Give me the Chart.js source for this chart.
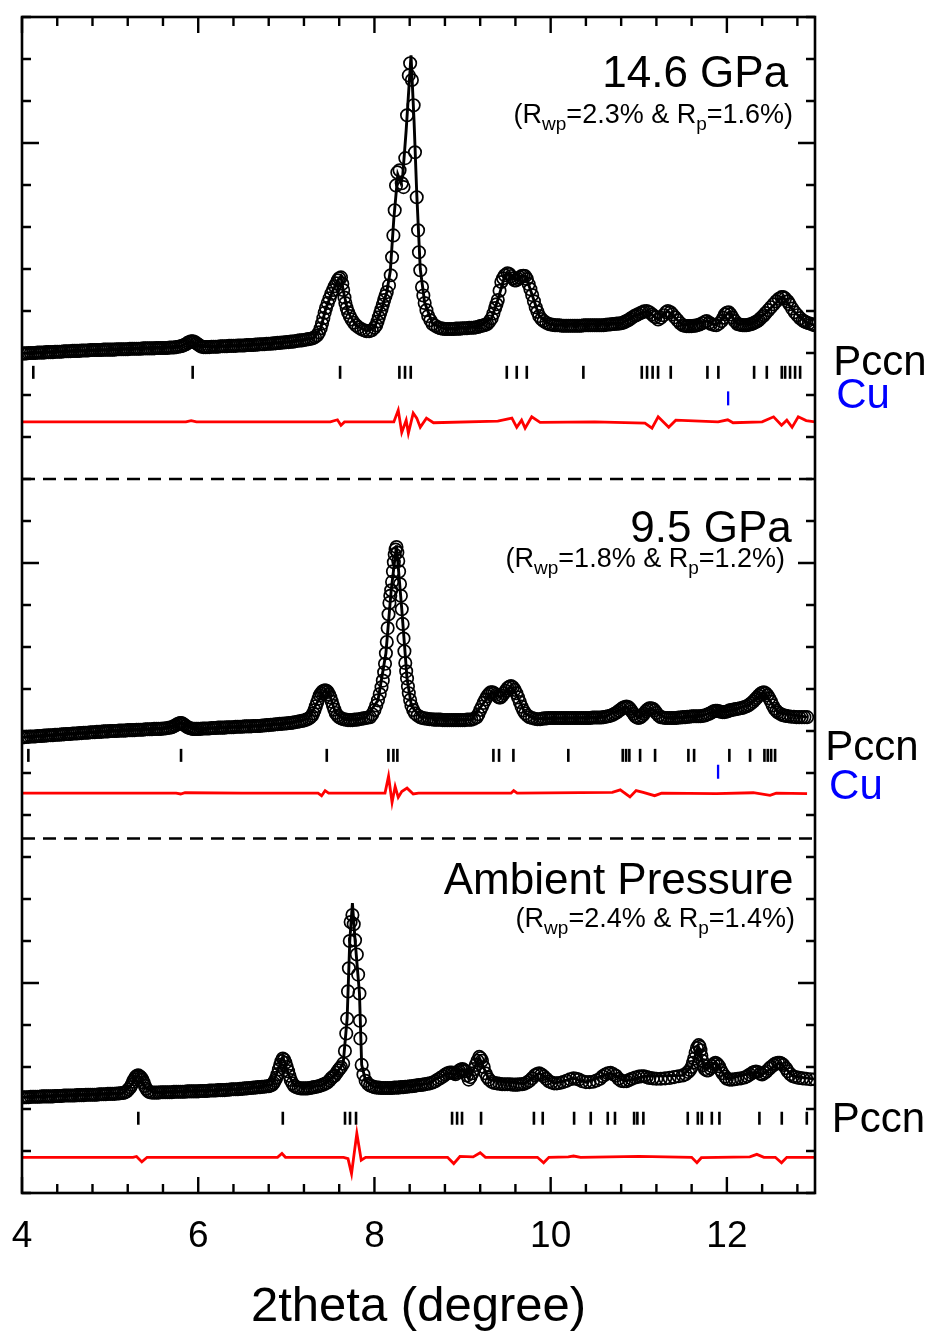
<!DOCTYPE html>
<html>
<head>
<meta charset="utf-8">
<title>Rietveld refinement, Pccn</title>
<script src="https://cdn.jsdelivr.net/npm/chart.js@4.4.1/dist/chart.umd.min.js"></script>
<style>
    html, body { margin: 0; padding: 0; background: #fff; }
    canvas { display: block; }
</style>
</head>
<body>
<canvas id="chart" width="932" height="1332"></canvas>
<script>
const FONT = "'Liberation Sans', Arial, Helvetica, sans-serif";

// axes
const xTickLabels = [4, 6, 8, 10, 12];
const xMinorStep = 0.4;
const yMajorTicks = [0, 10, 20];
const yMinorStep = 1;

// panel texts
const panelTitles = ["14.6 GPa", "9.5 GPa", "Ambient Pressure"];
const panelRwp = ["2.3", "1.8", "2.4"];
const panelRp = ["1.6", "1.2", "1.4"];

// separators between the patterns
const dashLevels = [12, 3.44];

// reflection marker rows
const tickLevels146 = { pccn: 14.54, cu: 13.92 };
const tickLevels95 = { pccn: 5.42, cu: 5.03 };
const tickLevelsAmb = { pccn: -3.22 };

// ---------- 14.6 GPa ----------
const obs146 = [
    [4.000,14.99],[4.025,14.99],[4.050,14.99],[4.075,15.00],[4.100,15.00],[4.125,15.00],[4.150,15.00],[4.175,15.01],[4.200,15.01],[4.225,15.01],
    [4.250,15.01],[4.275,15.02],[4.300,15.02],[4.325,15.02],[4.350,15.02],[4.375,15.03],[4.400,15.03],[4.425,15.03],[4.450,15.03],[4.475,15.04],
    [4.500,15.04],[4.525,15.04],[4.550,15.04],[4.575,15.05],[4.600,15.05],[4.625,15.05],[4.650,15.05],[4.675,15.06],[4.700,15.06],[4.725,15.06],
    [4.750,15.06],[4.775,15.07],[4.800,15.07],[4.825,15.07],[4.850,15.07],[4.875,15.07],[4.900,15.07],[4.925,15.08],[4.950,15.08],[4.975,15.08],
    [5.000,15.08],[5.025,15.08],[5.050,15.08],[5.075,15.09],[5.100,15.09],[5.125,15.09],[5.150,15.09],[5.175,15.09],[5.200,15.09],[5.225,15.10],
    [5.250,15.10],[5.275,15.10],[5.300,15.10],[5.325,15.10],[5.350,15.10],[5.375,15.11],[5.400,15.11],[5.425,15.11],[5.450,15.11],[5.475,15.11],
    [5.500,15.11],[5.525,15.12],[5.550,15.12],[5.575,15.12],[5.600,15.12],[5.625,15.12],[5.650,15.12],[5.675,15.13],[5.700,15.13],[5.725,15.13],
    [5.750,15.14],[5.775,15.15],[5.800,15.16],[5.82,15.17],[5.84,15.19],[5.86,15.21],[5.88,15.24],[5.90,15.26],[5.92,15.28],[5.94,15.28],
    [5.96,15.26],[5.98,15.23],[6.00,15.20],[6.02,15.17],[6.04,15.15],[6.06,15.14],[6.08,15.14],[6.10,15.14],[6.125,15.14],[6.150,15.15],
    [6.175,15.15],[6.200,15.15],[6.225,15.15],[6.250,15.16],[6.275,15.16],[6.300,15.16],[6.325,15.16],[6.350,15.17],[6.375,15.17],[6.400,15.17],
    [6.425,15.17],[6.450,15.18],[6.475,15.18],[6.500,15.18],[6.525,15.18],[6.550,15.19],[6.575,15.19],[6.600,15.19],[6.625,15.19],[6.650,15.20],
    [6.675,15.20],[6.700,15.21],[6.725,15.21],[6.750,15.21],[6.775,15.22],[6.800,15.22],[6.825,15.22],[6.850,15.23],[6.875,15.23],[6.900,15.24],
    [6.925,15.24],[6.950,15.25],[6.975,15.25],[7.000,15.26],[7.025,15.26],[7.050,15.27],[7.075,15.27],[7.100,15.28],[7.125,15.29],[7.150,15.30],
    [7.175,15.30],[7.200,15.31],[7.225,15.32],[7.250,15.33],[7.275,15.34],[7.300,15.35],[7.325,15.38],[7.35,15.42],[7.37,15.49],[7.39,15.59],
    [7.405,15.70],[7.42,15.83],[7.435,15.96],[7.45,16.07],[7.47,16.19],[7.49,16.30],[7.51,16.41],[7.53,16.50],[7.55,16.59],[7.57,16.66],
    [7.585,16.73],[7.60,16.78],[7.62,16.80],[7.635,16.65],[7.645,16.50],[7.66,16.32],[7.67,16.19],[7.685,16.07],[7.70,15.97],[7.72,15.88],
    [7.74,15.80],[7.765,15.72],[7.79,15.66],[7.82,15.61],[7.85,15.57],[7.88,15.54],[7.91,15.52],[7.94,15.52],[7.97,15.54],[8.00,15.60],
    [8.02,15.66],[8.035,15.75],[8.05,15.85],[8.065,15.95],[8.08,16.04],[8.095,16.15],[8.11,16.26],[8.125,16.36],[8.14,16.45],[8.165,16.61],
    [8.185,16.85],[8.20,17.28],[8.215,17.80],[8.23,18.40],[8.245,18.99],[8.26,19.30],[8.285,19.35],[8.31,19.04],[8.33,18.95],[8.35,19.64],
    [8.37,20.66],[8.39,21.61],[8.405,21.90],[8.425,21.50],[8.445,20.90],[8.46,19.78],[8.48,18.71],[8.495,17.92],[8.505,17.40],[8.52,16.97],
    [8.54,16.57],[8.555,16.37],[8.57,16.19],[8.59,16.02],[8.61,15.88],[8.635,15.78],[8.66,15.69],[8.69,15.65],[8.72,15.61],[8.75,15.59],
    [8.775,15.58],[8.800,15.57],[8.825,15.57],[8.850,15.57],[8.875,15.57],[8.900,15.57],[8.925,15.58],[8.950,15.58],[8.975,15.58],[9.000,15.59],
    [9.025,15.59],[9.050,15.59],[9.075,15.60],[9.100,15.60],[9.125,15.60],[9.150,15.61],[9.175,15.62],[9.20,15.64],[9.22,15.65],[9.24,15.66],
    [9.26,15.67],[9.28,15.69],[9.305,15.75],[9.33,15.83],[9.35,15.94],[9.37,16.07],[9.385,16.16],[9.40,16.26],[9.42,16.48],[9.44,16.69],
    [9.46,16.78],[9.48,16.85],[9.51,16.90],[9.53,16.88],[9.55,16.83],[9.57,16.78],[9.59,16.73],[9.61,16.73],[9.63,16.76],[9.65,16.80],
    [9.67,16.83],[9.69,16.84],[9.71,16.83],[9.73,16.76],[9.75,16.64],[9.77,16.52],[9.79,16.38],[9.81,16.23],[9.83,16.09],[9.85,15.98],
    [9.87,15.88],[9.895,15.81],[9.92,15.76],[9.95,15.72],[9.98,15.69],[10.000,15.68],[10.025,15.67],[10.050,15.66],[10.075,15.66],[10.100,15.66],
    [10.125,15.65],[10.150,15.65],[10.175,15.65],[10.200,15.65],[10.225,15.65],[10.250,15.65],[10.275,15.65],[10.300,15.65],[10.325,15.65],[10.350,15.65],
    [10.375,15.66],[10.400,15.66],[10.425,15.66],[10.450,15.66],[10.475,15.66],[10.500,15.66],[10.525,15.66],[10.550,15.66],[10.575,15.66],[10.600,15.66],
    [10.625,15.67],[10.650,15.68],[10.675,15.68],[10.700,15.69],[10.725,15.69],[10.750,15.70],[10.775,15.70],[10.800,15.71],[10.82,15.72],[10.84,15.74],
    [10.86,15.76],[10.88,15.78],[10.90,15.81],[10.92,15.84],[10.95,15.88],[10.97,15.90],[10.99,15.92],[11.02,15.95],[11.04,15.97],[11.06,15.99],
    [11.09,16.00],[11.12,15.97],[11.15,15.92],[11.17,15.88],[11.19,15.85],[11.22,15.80],[11.25,15.84],[11.28,15.90],[11.31,15.97],[11.33,16.00],
    [11.36,15.97],[11.38,15.92],[11.41,15.85],[11.44,15.78],[11.47,15.71],[11.50,15.66],[11.52,15.65],[11.54,15.64],[11.56,15.64],[11.58,15.64],
    [11.60,15.64],[11.62,15.65],[11.64,15.65],[11.66,15.66],[11.69,15.68],[11.72,15.71],[11.75,15.74],[11.77,15.76],[11.80,15.72],[11.82,15.69],
    [11.85,15.67],[11.88,15.66],[11.91,15.70],[11.94,15.76],[11.96,15.84],[11.98,15.92],[12.00,15.96],[12.02,15.97],[12.04,15.92],[12.06,15.85],
    [12.09,15.76],[12.12,15.69],[12.14,15.68],[12.16,15.67],[12.18,15.66],[12.20,15.66],[12.22,15.66],[12.24,15.67],[12.26,15.68],[12.28,15.69],
    [12.30,15.71],[12.32,15.73],[12.34,15.75],[12.36,15.78],[12.38,15.82],[12.40,15.86],[12.42,15.90],[12.44,15.95],[12.47,16.02],[12.50,16.09],
    [12.53,16.16],[12.56,16.23],[12.59,16.29],[12.62,16.33],[12.64,16.33],[12.66,16.30],[12.69,16.23],[12.71,16.16],[12.74,16.06],[12.77,15.97],
    [12.80,15.90],[12.83,15.83],[12.86,15.78],[12.88,15.75],[12.90,15.73],[12.93,15.71],[12.96,15.69],[12.98,15.67],[13.00,15.66]
];
const calc146 = [
    [4.00,14.99],[5.00,15.08],[5.80,15.16],[5.92,15.28],[6.04,15.15],[6.50,15.18],[7.00,15.26],[7.30,15.35],[7.39,15.59],[7.45,16.07],
    [7.53,16.50],[7.60,16.78],[7.62,16.82],[7.645,16.50],[7.70,15.97],[7.79,15.66],[7.91,15.52],[8.00,15.60],[8.08,16.04],[8.14,16.45],
    [8.18,16.95],[8.22,18.20],[8.265,19.25],[8.30,19.05],[8.32,19.20],[8.36,20.30],[8.415,22.09],[8.45,20.50],[8.48,18.80],[8.52,17.00],
    [8.57,16.20],[8.66,15.70],[8.80,15.57],[9.20,15.64],[9.33,15.83],[9.40,16.26],[9.48,16.85],[9.52,16.90],[9.60,16.73],[9.68,16.83],
    [9.72,16.82],[9.79,16.38],[9.87,15.88],[10.00,15.67],[10.80,15.71],[10.95,15.88],[11.09,16.00],[11.22,15.80],[11.33,16.00],[11.50,15.66],
    [11.77,15.76],[11.88,15.66],[12.02,15.97],[12.12,15.69],[12.28,15.69],[12.44,15.95],[12.63,16.34],[12.77,15.97],[12.90,15.73],[13.00,15.66]
];
const diff146 = [
    [4.00,13.36],[5.86,13.36],[5.92,13.39],[5.98,13.36],[7.50,13.36],[7.58,13.41],[7.62,13.28],[7.66,13.36],[8.22,13.36],[8.27,13.64],
    [8.31,13.11],[8.36,13.40],[8.385,13.09],[8.44,13.57],[8.48,13.45],[8.52,13.23],[8.59,13.45],[8.67,13.34],[9.40,13.38],[9.56,13.45],
    [9.615,13.23],[9.67,13.40],[9.71,13.21],[9.785,13.48],[9.88,13.35],[10.50,13.36],[11.07,13.33],[11.15,13.21],[11.22,13.48],[11.34,13.23],
    [11.42,13.40],[11.90,13.36],[12.01,13.41],[12.07,13.34],[12.40,13.36],[12.53,13.48],[12.62,13.28],[12.68,13.40],[12.74,13.23],[12.81,13.48],
    [12.90,13.39],[13.00,13.36]
];
const pccn146 = [4.128, 5.937, 7.61, 8.283, 8.347, 8.412, 9.502, 9.615, 9.729, 10.371, 11.034, 11.094, 11.157, 11.219,
    11.363, 11.779, 11.903, 12.309, 12.453, 12.623, 12.661, 12.717, 12.774, 12.831];
const cu146 = [12.014];

// ---------- 9.5 GPa ----------
const obs95 = [
    [4.000,5.85],[4.025,5.85],[4.050,5.86],[4.075,5.86],[4.100,5.87],[4.125,5.87],[4.150,5.87],[4.175,5.88],[4.200,5.88],[4.225,5.88],
    [4.250,5.89],[4.275,5.89],[4.300,5.90],[4.325,5.90],[4.350,5.90],[4.375,5.91],[4.400,5.91],[4.425,5.91],[4.450,5.92],[4.475,5.92],
    [4.500,5.93],[4.525,5.93],[4.550,5.93],[4.575,5.94],[4.600,5.94],[4.625,5.94],[4.650,5.95],[4.675,5.95],[4.700,5.96],[4.725,5.96],
    [4.750,5.96],[4.775,5.97],[4.800,5.97],[4.825,5.97],[4.850,5.98],[4.875,5.98],[4.900,5.98],[4.925,5.99],[4.950,5.99],[4.975,5.99],
    [5.000,6.00],[5.025,6.00],[5.050,6.00],[5.075,6.00],[5.100,6.01],[5.125,6.01],[5.150,6.01],[5.175,6.01],[5.200,6.02],[5.225,6.02],
    [5.250,6.02],[5.275,6.02],[5.300,6.03],[5.325,6.03],[5.350,6.03],[5.375,6.03],[5.400,6.04],[5.425,6.04],[5.450,6.04],[5.475,6.04],
    [5.500,6.05],[5.525,6.05],[5.550,6.05],[5.575,6.05],[5.600,6.06],[5.625,6.06],[5.650,6.07],[5.675,6.08],[5.700,6.09],[5.72,6.11],
    [5.74,6.13],[5.76,6.16],[5.78,6.18],[5.795,6.19],[5.81,6.19],[5.825,6.17],[5.84,6.15],[5.86,6.12],[5.88,6.09],[5.90,6.07],
    [5.92,6.06],[5.94,6.05],[5.96,6.05],[5.98,6.05],[6.000,6.05],[6.025,6.05],[6.050,6.06],[6.075,6.06],[6.100,6.06],[6.125,6.06],
    [6.150,6.07],[6.175,6.07],[6.200,6.07],[6.225,6.08],[6.250,6.08],[6.275,6.08],[6.300,6.08],[6.325,6.09],[6.350,6.09],[6.375,6.09],
    [6.400,6.09],[6.425,6.10],[6.450,6.10],[6.475,6.10],[6.500,6.10],[6.525,6.11],[6.550,6.11],[6.575,6.11],[6.600,6.11],[6.625,6.12],
    [6.650,6.12],[6.675,6.12],[6.700,6.12],[6.725,6.13],[6.750,6.13],[6.775,6.14],[6.800,6.14],[6.825,6.15],[6.850,6.15],[6.875,6.16],
    [6.900,6.16],[6.925,6.17],[6.950,6.17],[6.975,6.18],[7.000,6.18],[7.025,6.19],[7.050,6.19],[7.075,6.20],[7.100,6.21],[7.125,6.22],
    [7.150,6.23],[7.175,6.24],[7.200,6.25],[7.225,6.27],[7.25,6.29],[7.27,6.32],[7.29,6.36],[7.305,6.42],[7.32,6.50],[7.335,6.59],
    [7.35,6.68],[7.365,6.77],[7.38,6.85],[7.395,6.90],[7.41,6.94],[7.425,6.96],[7.44,6.97],[7.455,6.96],[7.47,6.93],[7.485,6.87],
    [7.50,6.80],[7.515,6.70],[7.53,6.60],[7.545,6.51],[7.56,6.43],[7.58,6.37],[7.60,6.33],[7.625,6.30],[7.65,6.28],[7.675,6.27],
    [7.70,6.26],[7.725,6.26],[7.75,6.26],[7.775,6.27],[7.80,6.27],[7.825,6.28],[7.85,6.29],[7.875,6.30],[7.90,6.31],[7.925,6.32],
    [7.95,6.33],[7.975,6.40],[8.00,6.50],[8.02,6.61],[8.04,6.73],[8.06,6.88],[8.08,7.04],[8.095,7.20],[8.11,7.40],[8.12,7.60],
    [8.13,7.85],[8.14,8.12],[8.15,8.45],[8.16,8.78],[8.17,9.05],[8.18,9.22],[8.19,9.35],[8.20,9.55],[8.21,9.80],[8.22,10.02],
    [8.23,10.20],[8.24,10.32],[8.25,10.38],[8.26,10.25],[8.27,10.05],[8.28,9.80],[8.29,9.50],[8.30,9.22],[8.31,8.90],[8.32,8.55],
    [8.33,8.20],[8.34,7.90],[8.35,7.62],[8.36,7.42],[8.37,7.25],[8.38,7.06],[8.39,6.90],[8.405,6.74],[8.42,6.60],[8.44,6.50],
    [8.46,6.42],[8.49,6.37],[8.52,6.33],[8.545,6.31],[8.57,6.30],[8.600,6.29],[8.625,6.28],[8.650,6.28],[8.675,6.27],[8.700,6.27],
    [8.725,6.27],[8.750,6.27],[8.775,6.26],[8.800,6.26],[8.825,6.26],[8.850,6.26],[8.875,6.26],[8.900,6.26],[8.925,6.26],[8.950,6.26],
    [8.975,6.26],[9.000,6.26],[9.025,6.26],[9.050,6.27],[9.075,6.27],[9.100,6.27],[9.13,6.29],[9.16,6.33],[9.18,6.40],[9.20,6.50],
    [9.22,6.58],[9.24,6.67],[9.26,6.75],[9.28,6.83],[9.30,6.88],[9.32,6.92],[9.34,6.92],[9.36,6.90],[9.38,6.86],[9.40,6.82],
    [9.415,6.80],[9.43,6.80],[9.45,6.84],[9.47,6.90],[9.49,6.96],[9.51,7.02],[9.53,7.05],[9.55,7.07],[9.57,7.04],[9.59,6.98],
    [9.61,6.90],[9.63,6.80],[9.65,6.69],[9.67,6.58],[9.69,6.49],[9.71,6.42],[9.735,6.37],[9.76,6.33],[9.79,6.31],[9.82,6.29],
    [9.85,6.28],[9.88,6.28],[9.900,6.29],[9.925,6.30],[9.950,6.30],[9.975,6.31],[10.000,6.31],[10.025,6.31],[10.050,6.31],[10.075,6.31],
    [10.100,6.31],[10.125,6.31],[10.150,6.31],[10.175,6.31],[10.200,6.31],[10.225,6.31],[10.250,6.31],[10.275,6.31],[10.300,6.31],[10.325,6.31],
    [10.350,6.31],[10.375,6.31],[10.400,6.31],[10.425,6.31],[10.450,6.31],[10.475,6.32],[10.500,6.32],[10.525,6.32],[10.550,6.32],[10.575,6.32],
    [10.600,6.33],[10.625,6.34],[10.650,6.35],[10.675,6.36],[10.700,6.38],[10.725,6.41],[10.750,6.44],[10.775,6.48],[10.80,6.52],[10.82,6.55],
    [10.84,6.57],[10.86,6.58],[10.88,6.57],[10.90,6.53],[10.92,6.47],[10.94,6.41],[10.96,6.35],[10.98,6.32],[11.00,6.31],[11.02,6.33],
    [11.04,6.36],[11.06,6.41],[11.08,6.47],[11.10,6.51],[11.12,6.54],[11.14,6.54],[11.16,6.53],[11.18,6.49],[11.20,6.43],[11.225,6.37],
    [11.250,6.33],[11.275,6.32],[11.300,6.31],[11.325,6.31],[11.350,6.31],[11.375,6.31],[11.400,6.31],[11.425,6.31],[11.450,6.32],[11.475,6.32],
    [11.500,6.33],[11.525,6.33],[11.550,6.34],[11.575,6.34],[11.600,6.35],[11.625,6.35],[11.650,6.35],[11.675,6.35],[11.700,6.35],[11.725,6.36],
    [11.750,6.37],[11.775,6.39],[11.800,6.41],[11.825,6.44],[11.85,6.47],[11.87,6.48],[11.89,6.48],[11.91,6.47],[11.93,6.46],[11.95,6.45],
    [11.97,6.45],[11.99,6.46],[12.01,6.47],[12.03,6.49],[12.05,6.50],[12.075,6.51],[12.100,6.52],[12.125,6.53],[12.150,6.54],[12.175,6.55],
    [12.200,6.57],[12.225,6.59],[12.25,6.62],[12.275,6.66],[12.30,6.70],[12.32,6.75],[12.34,6.79],[12.36,6.84],[12.38,6.88],[12.40,6.91],
    [12.42,6.92],[12.44,6.90],[12.46,6.85],[12.48,6.78],[12.50,6.70],[12.52,6.61],[12.54,6.53],[12.56,6.48],[12.58,6.44],[12.605,6.41],
    [12.63,6.38],[12.65,6.37],[12.67,6.36],[12.70,6.35],[12.73,6.34],[12.76,6.34],[12.79,6.33],[12.82,6.33],[12.85,6.33],[12.88,6.33],
    [12.91,6.33]
];
const calc95 = [
    [4.00,5.85],[5.00,6.00],[5.65,6.07],[5.80,6.19],[5.95,6.05],[6.50,6.10],[7.00,6.18],[7.25,6.29],[7.35,6.68],[7.44,6.98],
    [7.50,6.80],[7.56,6.43],[7.66,6.27],[7.90,6.31],[8.04,6.73],[8.13,7.85],[8.19,9.35],[8.25,10.42],[8.31,8.90],[8.37,7.25],
    [8.42,6.60],[8.52,6.33],[9.10,6.27],[9.24,6.67],[9.33,6.93],[9.43,6.80],[9.55,7.06],[9.63,6.80],[9.71,6.42],[9.82,6.29],
    [10.60,6.33],[10.86,6.57],[11.00,6.31],[11.14,6.54],[11.30,6.31],[11.70,6.35],[11.88,6.48],[12.00,6.46],[12.25,6.62],[12.42,6.92],
    [12.58,6.44],[12.91,6.33]
];
const diff95 = [
    [4.00,4.52],[5.75,4.52],[5.80,4.50],[5.85,4.53],[6.50,4.52],[7.36,4.52],[7.40,4.46],[7.44,4.58],[7.48,4.52],[8.12,4.52],
    [8.16,4.92],[8.20,4.30],[8.235,4.68],[8.27,4.42],[8.31,4.56],[8.37,4.64],[8.44,4.50],[8.50,4.52],[9.55,4.52],[9.58,4.58],
    [9.62,4.52],[10.70,4.54],[10.79,4.60],[10.90,4.43],[10.97,4.58],[11.05,4.54],[11.18,4.46],[11.26,4.52],[11.88,4.51],[12.30,4.53],
    [12.49,4.47],[12.56,4.52],[12.91,4.51]
];
const pccn95 = [4.072, 5.805, 7.459, 8.158, 8.215, 8.26, 9.35, 9.414, 9.577, 10.20, 10.818, 10.856, 10.893, 11.015,
    11.185, 11.563, 11.628, 12.028, 12.263, 12.426, 12.464, 12.502, 12.547];
const cu95 = [11.90];

// ---------- ambient pressure ----------
const obsAmb = [
    [4.000,-2.72],[4.025,-2.72],[4.050,-2.72],[4.075,-2.72],[4.100,-2.71],[4.125,-2.71],[4.150,-2.71],[4.175,-2.71],[4.200,-2.71],[4.225,-2.70],
    [4.250,-2.70],[4.275,-2.70],[4.300,-2.70],[4.325,-2.70],[4.350,-2.70],[4.375,-2.69],[4.400,-2.69],[4.425,-2.69],[4.450,-2.69],[4.475,-2.68],
    [4.500,-2.68],[4.525,-2.68],[4.550,-2.68],[4.575,-2.68],[4.600,-2.68],[4.625,-2.67],[4.650,-2.67],[4.675,-2.67],[4.700,-2.67],[4.725,-2.66],
    [4.750,-2.66],[4.775,-2.66],[4.800,-2.66],[4.825,-2.66],[4.850,-2.66],[4.875,-2.65],[4.900,-2.65],[4.925,-2.65],[4.950,-2.65],[4.975,-2.64],
    [5.000,-2.64],[5.025,-2.64],[5.050,-2.64],[5.075,-2.63],[5.100,-2.63],[5.125,-2.62],[5.150,-2.62],[5.17,-2.60],[5.19,-2.58],[5.21,-2.53],
    [5.23,-2.48],[5.245,-2.42],[5.26,-2.35],[5.275,-2.29],[5.29,-2.24],[5.305,-2.21],[5.32,-2.20],[5.335,-2.22],[5.35,-2.25],[5.365,-2.30],
    [5.38,-2.37],[5.395,-2.45],[5.41,-2.52],[5.43,-2.57],[5.45,-2.60],[5.475,-2.61],[5.500,-2.61],[5.525,-2.61],[5.550,-2.61],[5.575,-2.60],
    [5.600,-2.60],[5.625,-2.60],[5.650,-2.60],[5.675,-2.60],[5.700,-2.60],[5.725,-2.59],[5.750,-2.59],[5.775,-2.59],[5.800,-2.59],[5.825,-2.59],
    [5.850,-2.59],[5.875,-2.58],[5.900,-2.58],[5.925,-2.58],[5.950,-2.58],[5.975,-2.58],[6.000,-2.58],[6.025,-2.57],[6.050,-2.57],[6.075,-2.57],
    [6.100,-2.57],[6.125,-2.56],[6.150,-2.56],[6.175,-2.56],[6.200,-2.56],[6.225,-2.55],[6.250,-2.55],[6.275,-2.55],[6.300,-2.55],[6.325,-2.54],
    [6.350,-2.54],[6.375,-2.53],[6.400,-2.53],[6.425,-2.53],[6.450,-2.53],[6.475,-2.52],[6.500,-2.52],[6.525,-2.51],[6.550,-2.51],[6.575,-2.50],
    [6.600,-2.50],[6.625,-2.49],[6.650,-2.49],[6.675,-2.48],[6.700,-2.48],[6.725,-2.47],[6.750,-2.47],[6.775,-2.46],[6.800,-2.46],[6.82,-2.44],
    [6.84,-2.42],[6.855,-2.38],[6.87,-2.33],[6.885,-2.26],[6.90,-2.17],[6.915,-2.06],[6.93,-1.95],[6.945,-1.86],[6.96,-1.80],[6.975,-1.83],
    [6.99,-1.90],[7.005,-2.00],[7.02,-2.10],[7.035,-2.21],[7.05,-2.31],[7.07,-2.39],[7.09,-2.45],[7.115,-2.48],[7.14,-2.50],[7.165,-2.51],
    [7.19,-2.51],[7.215,-2.51],[7.24,-2.51],[7.265,-2.50],[7.29,-2.49],[7.315,-2.48],[7.34,-2.47],[7.365,-2.46],[7.39,-2.44],[7.415,-2.42],
    [7.44,-2.40],[7.465,-2.37],[7.49,-2.32],[7.51,-2.27],[7.53,-2.23],[7.55,-2.20],[7.57,-2.14],[7.59,-2.08],[7.605,-2.04],[7.62,-2.00],
    [7.645,-1.92],[7.665,-1.62],[7.68,-1.20],[7.69,-0.85],[7.70,-0.20],[7.71,0.35],[7.72,1.00],[7.73,1.45],[7.75,1.62],[7.765,1.40],
    [7.78,1.02],[7.80,0.68],[7.815,0.20],[7.83,-0.25],[7.835,-0.90],[7.84,-1.32],[7.855,-1.95],[7.875,-2.18],[7.90,-2.33],[7.925,-2.40],
    [7.950,-2.44],[7.975,-2.46],[8.000,-2.48],[8.025,-2.49],[8.050,-2.49],[8.075,-2.50],[8.100,-2.50],[8.125,-2.50],[8.150,-2.50],[8.175,-2.50],
    [8.200,-2.50],[8.225,-2.49],[8.250,-2.49],[8.275,-2.49],[8.300,-2.48],[8.325,-2.48],[8.350,-2.47],[8.375,-2.47],[8.400,-2.46],[8.425,-2.46],
    [8.450,-2.45],[8.475,-2.44],[8.500,-2.43],[8.525,-2.43],[8.550,-2.42],[8.575,-2.41],[8.600,-2.40],[8.63,-2.39],[8.66,-2.37],[8.69,-2.34],
    [8.72,-2.30],[8.75,-2.26],[8.78,-2.22],[8.805,-2.18],[8.83,-2.15],[8.855,-2.13],[8.88,-2.13],[8.90,-2.15],[8.92,-2.17],[8.94,-2.13],
    [8.96,-2.09],[8.98,-2.06],[9.00,-2.05],[9.015,-2.07],[9.03,-2.10],[9.05,-2.20],[9.07,-2.30],[9.09,-2.24],[9.11,-2.15],[9.13,-2.05],
    [9.15,-1.95],[9.17,-1.85],[9.19,-1.76],[9.205,-1.79],[9.22,-1.85],[9.24,-2.00],[9.26,-2.15],[9.28,-2.24],[9.30,-2.30],[9.33,-2.35],
    [9.36,-2.38],[9.39,-2.39],[9.42,-2.40],[9.45,-2.41],[9.48,-2.41],[9.51,-2.41],[9.54,-2.41],[9.57,-2.42],[9.60,-2.42],[9.625,-2.42],
    [9.65,-2.41],[9.675,-2.41],[9.70,-2.40],[9.73,-2.37],[9.76,-2.33],[9.79,-2.27],[9.82,-2.20],[9.845,-2.17],[9.87,-2.15],[9.895,-2.18],
    [9.92,-2.22],[9.95,-2.28],[9.98,-2.34],[10.01,-2.37],[10.04,-2.39],[10.07,-2.39],[10.10,-2.38],[10.14,-2.36],[10.18,-2.33],[10.22,-2.29],
    [10.26,-2.27],[10.29,-2.28],[10.32,-2.30],[10.36,-2.34],[10.40,-2.36],[10.44,-2.36],[10.48,-2.35],[10.52,-2.32],[10.56,-2.28],[10.59,-2.22],
    [10.62,-2.18],[10.65,-2.15],[10.68,-2.14],[10.71,-2.17],[10.74,-2.21],[10.77,-2.28],[10.80,-2.33],[10.83,-2.34],[10.86,-2.34],[10.89,-2.31],
    [10.92,-2.28],[10.96,-2.25],[11.00,-2.23],[11.03,-2.22],[11.06,-2.22],[11.09,-2.24],[11.12,-2.26],[11.16,-2.27],[11.20,-2.28],[11.25,-2.28],
    [11.30,-2.27],[11.35,-2.26],[11.40,-2.24],[11.45,-2.22],[11.50,-2.20],[11.53,-2.17],[11.56,-2.12],[11.58,-2.07],[11.60,-2.00],[11.615,-1.90],
    [11.63,-1.80],[11.645,-1.66],[11.66,-1.55],[11.68,-1.48],[11.69,-1.52],[11.70,-1.60],[11.71,-1.73],[11.72,-1.85],[11.735,-1.96],[11.75,-2.05],
    [11.77,-2.08],[11.79,-2.08],[11.81,-2.03],[11.83,-1.98],[11.85,-1.93],[11.87,-1.90],[11.89,-1.93],[11.91,-1.98],[11.93,-2.07],[11.95,-2.15],
    [11.98,-2.23],[12.00,-2.28],[12.03,-2.30],[12.06,-2.30],[12.09,-2.29],[12.12,-2.28],[12.16,-2.27],[12.20,-2.25],[12.23,-2.22],[12.26,-2.18],
    [12.29,-2.14],[12.31,-2.12],[12.33,-2.11],[12.35,-2.12],[12.38,-2.16],[12.40,-2.18],[12.43,-2.14],[12.45,-2.10],[12.48,-2.04],[12.50,-2.00],
    [12.53,-1.95],[12.55,-1.92],[12.58,-1.90],[12.60,-1.90],[12.62,-1.92],[12.64,-1.95],[12.67,-2.03],[12.69,-2.10],[12.72,-2.17],[12.75,-2.22],
    [12.78,-2.24],[12.82,-2.26],[12.86,-2.27],[12.90,-2.28],[12.95,-2.29],[13.00,-2.29]
];
const calcAmb = [
    [4.00,-2.72],[5.15,-2.62],[5.25,-2.40],[5.32,-2.18],[5.40,-2.50],[5.50,-2.61],[6.50,-2.52],[6.84,-2.42],[6.91,-2.05],[6.96,-1.75],
    [7.02,-2.15],[7.09,-2.45],[7.40,-2.44],[7.55,-2.20],[7.645,-1.92],[7.69,-0.85],[7.72,1.00],[7.75,1.90],[7.78,1.02],[7.83,-0.25],
    [7.855,-1.95],[7.90,-2.33],[8.00,-2.48],[8.60,-2.40],[8.83,-2.15],[8.92,-2.17],[9.00,-2.05],[9.07,-2.28],[9.19,-1.78],[9.30,-2.30],
    [9.70,-2.40],[9.87,-2.15],[10.04,-2.39],[10.26,-2.27],[10.40,-2.36],[10.68,-2.14],[10.84,-2.34],[11.06,-2.22],[11.50,-2.20],[11.60,-2.00],
    [11.675,-1.50],[11.75,-2.05],[11.87,-1.90],[12.00,-2.28],[12.33,-2.12],[12.40,-2.18],[12.60,-1.90],[12.75,-2.22],[13.00,-2.29]
];
const diffAmb = [
    [4.00,-4.15],[5.26,-4.15],[5.30,-4.13],[5.36,-4.26],[5.42,-4.15],[6.90,-4.15],[6.95,-4.06],[6.99,-4.15],[7.65,-4.15],[7.70,-4.18],
    [7.74,-4.54],[7.80,-3.58],[7.85,-4.22],[7.90,-4.15],[8.83,-4.15],[8.90,-4.30],[8.97,-4.13],[9.12,-4.14],[9.20,-4.04],[9.26,-4.15],
    [9.85,-4.15],[9.92,-4.28],[9.98,-4.15],[10.20,-4.14],[10.26,-4.12],[10.34,-4.15],[11.00,-4.13],[11.60,-4.15],[11.66,-4.28],[11.71,-4.16],
    [12.26,-4.14],[12.34,-4.08],[12.42,-4.15],[12.55,-4.15],[12.62,-4.28],[12.68,-4.15],[13.00,-4.15]
];
const pccnAmb = [5.32, 6.96, 7.666, 7.723, 7.791, 8.881, 8.938, 8.994, 9.21, 9.81, 9.91, 10.266, 10.455, 10.648, 10.73,
    10.947, 10.984, 11.052, 11.556, 11.67, 11.715, 11.829, 11.915, 12.369, 12.623, 12.907];

function toPoints(pairs) {
    return pairs.map(p => ({ x: p[0], y: p[1] }));
}

function rowPoints(xs, level) {
    return xs.map(x => ({ x: x, y: level }));
}

function observed(pairs) {
    return {
        data: toPoints(pairs), showLine: false, pointStyle: "circle", pointRadius: 6.2,
        pointBorderWidth: 1.7, pointBorderColor: "#000", pointBackgroundColor: "rgba(255,255,255,0)", order: 2
    };
}

function curve(pairs, color, width, order) {
    return {
        data: toPoints(pairs), showLine: true, borderColor: color, borderWidth: width,
        pointRadius: 0, tension: 0, order: order
    };
}

function markers(xs, level, color, radius, width) {
    return {
        data: rowPoints(xs, level), showLine: false, pointStyle: "line", pointRotation: 90,
        pointRadius: radius, pointBorderWidth: width, pointBorderColor: color, order: 4
    };
}

const datasets = [
    curve(calc146, "#000", 2.9, 1), observed(obs146), curve(diff146, "#ff0000", 2.8, 3),
    markers(pccn146, tickLevels146.pccn, "#000", 6.5, 2.6), markers(cu146, tickLevels146.cu, "#0000ff", 7, 2.3),
    curve(calc95, "#000", 2.9, 1), observed(obs95), curve(diff95, "#ff0000", 2.8, 3),
    markers(pccn95, tickLevels95.pccn, "#000", 6.5, 2.6), markers(cu95, tickLevels95.cu, "#0000ff", 7, 2.3),
    curve(calcAmb, "#000", 2.9, 1), observed(obsAmb), curve(diffAmb, "#ff0000", 2.8, 3),
    markers(pccnAmb, tickLevelsAmb.pccn, "#000", 6.5, 2.6)
];
dashLevels.forEach(level => {
    datasets.push({
        data: [{ x: 4, y: level }, { x: 13, y: level }], showLine: true, borderColor: "#000",
        borderWidth: 2.5, borderDash: [13, 8], pointRadius: 0, order: 5
    });
});

// frame, inward ticks and the text labels
const decorPlugin = {
    id: "decor",
    afterDraw(chart) {
        const ctx = chart.ctx;
        const a = chart.chartArea;
        const xs = chart.scales.x;
        const ys = chart.scales.y;
        ctx.save();
        ctx.strokeStyle = "#000";
        ctx.lineWidth = 2.6;
        ctx.strokeRect(a.left, a.top, a.right - a.left, a.bottom - a.top);

        ctx.lineWidth = 2.4;
        ctx.beginPath();
        const nx = Math.round((xs.max - xs.min) / xMinorStep);
        for (let i = 0; i <= nx; i++) {
            const v = Math.round((xs.min + i * xMinorStep) * 10) / 10;
            if (v > xs.max) break;
            const px = xs.getPixelForValue(v);
            const len = xTickLabels.includes(v) ? 16 : 9;
            ctx.moveTo(px, a.bottom); ctx.lineTo(px, a.bottom - len);
            ctx.moveTo(px, a.top); ctx.lineTo(px, a.top + len);
        }
        const ny = Math.round((ys.max - ys.min) / yMinorStep);
        for (let i = 0; i <= ny; i++) {
            const v = ys.min + i * yMinorStep;
            const py = ys.getPixelForValue(v);
            const len = yMajorTicks.includes(v) ? 17 : 9;
            ctx.moveTo(a.left, py); ctx.lineTo(a.left + len, py);
            ctx.moveTo(a.right, py); ctx.lineTo(a.right - len, py);
        }
        ctx.stroke();

        ctx.fillStyle = "#000";
        ctx.textBaseline = "alphabetic";
        const titleAt = [[12.695, 21.33], [12.736, 10.50], [12.755, 2.13]];
        const rAt = [[12.751, 20.47], [12.66, 9.91], [12.774, 1.34]];
        ctx.textAlign = "right";
        ctx.font = "44px " + FONT;
        panelTitles.forEach((t, i) => {
            ctx.fillText(t, xs.getPixelForValue(titleAt[i][0]), ys.getPixelForValue(titleAt[i][1]));
        });

        ctx.textAlign = "left";
        const mainFont = "27px " + FONT;
        const subFont = "19px " + FONT;
        panelRwp.forEach((rwp, i) => {
            const parts = [
                ["(R", mainFont, 0], ["wp", subFont, 7], ["=" + rwp + "% & R", mainFont, 0],
                ["p", subFont, 7], ["=" + panelRp[i] + "%)", mainFont, 0]
            ];
            let total = 0;
            parts.forEach(p => { ctx.font = p[1]; total += ctx.measureText(p[0]).width; });
            let x = xs.getPixelForValue(rAt[i][0]) - total;
            const y = ys.getPixelForValue(rAt[i][1]);
            parts.forEach(p => {
                ctx.font = p[1];
                ctx.fillText(p[0], x, y + p[2]);
                x += ctx.measureText(p[0]).width;
            });
        });

        ctx.font = "42px " + FONT;
        const phaseLabels = [
            ["Pccn", "#000", 13.206, 14.47], ["Cu", "#0000ff", 13.24, 13.69],
            ["Pccn", "#000", 13.115, 5.30], ["Cu", "#0000ff", 13.16, 4.39],
            ["Pccn", "#000", 13.19, -3.55]
        ];
        phaseLabels.forEach(l => {
            ctx.fillStyle = l[1];
            ctx.fillText(l[0], xs.getPixelForValue(l[2]), ys.getPixelForValue(l[3]));
        });
        ctx.restore();
    }
};

new Chart(document.getElementById("chart").getContext("2d"), {
    type: "scatter",
    data: { datasets: datasets },
    options: {
        responsive: false,
        animation: false,
        events: [],
        layout: { padding: { left: 22, right: 117, top: 17, bottom: 0 } },
        plugins: { legend: { display: false }, tooltip: { enabled: false } },
        scales: {
            x: {
                type: "linear",
                min: 4,
                max: 13,
                grid: { display: false },
                border: { display: false },
                afterBuildTicks: scale => { scale.ticks = xTickLabels.map(v => ({ value: v })); },
                afterFit: scale => { scale.height = 139; },
                ticks: {
                    color: "#000", padding: 0, maxRotation: 0, autoSkip: false,
                    font: { family: FONT, size: 37, lineHeight: 1.94 }
                },
                title: {
                    display: true, text: "2theta (degree)", color: "#000", padding: 0,
                    font: { family: FONT, size: 49, lineHeight: 1.0 }
                }
            },
            y: { type: "linear", min: -5, max: 23, display: false }
        }
    },
    plugins: [decorPlugin]
});
</script>
</body>
</html>
